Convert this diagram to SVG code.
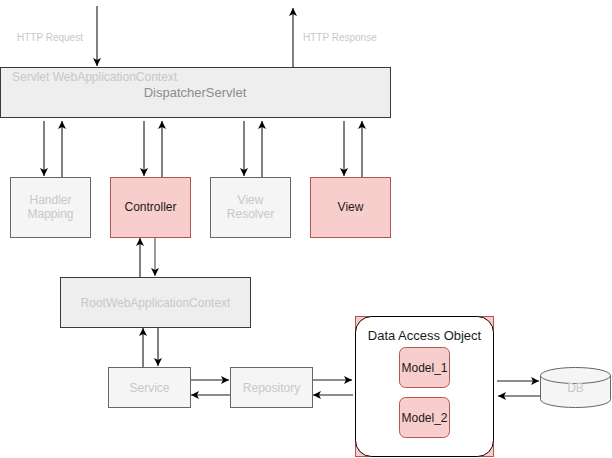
<svg xmlns="http://www.w3.org/2000/svg" width="612" height="458" viewBox="0 0 612 458">
  <style>
    .lbl { font-family: "Liberation Sans", Arial, sans-serif; }
    .faint { fill: #c8c8c8; }
    .dark { fill: #1a1a1a; }
    .grey-box { fill: #f5f5f5; stroke: #666666; stroke-width: 1; }
    .red-box { fill: #f8cecc; stroke: #b85450; stroke-width: 1; }
    .ctx-box { fill: #eeeeee; stroke: #36393d; stroke-width: 1; }
    .wire { stroke: #000000; stroke-width: 1; fill: none; marker-end: url(#head); }
    .wire-grey { stroke: #666666; stroke-width: 1.3; fill: none; marker-end: url(#head); }
  </style>
  <defs>
    <marker id="head" markerUnits="userSpaceOnUse" markerWidth="10" markerHeight="10" refX="8" refY="4" orient="auto">
      <path d="M0,0 L8,4 L0,8 L2,4 Z" fill="#000000"/>
    </marker>
  </defs>

  <rect width="612" height="458" fill="#ffffff"/>

  <!-- connectors -->
  <g id="connectors">
    <line class="wire" x1="97" y1="6" x2="97" y2="66"/>
    <line class="wire" x1="293" y1="67" x2="293" y2="8"/>

    <line class="wire" x1="44" y1="121" x2="44" y2="176"/>
    <line class="wire" x1="62" y1="177" x2="62" y2="121"/>
    <line class="wire" x1="144" y1="121" x2="144" y2="176"/>
    <line class="wire" x1="162" y1="177" x2="162" y2="121"/>
    <line class="wire" x1="244" y1="121" x2="244" y2="176"/>
    <line class="wire" x1="262" y1="177" x2="262" y2="121"/>
    <line class="wire" x1="344" y1="121" x2="344" y2="176"/>
    <line class="wire" x1="362" y1="177" x2="362" y2="121"/>

    <line class="wire" x1="140" y1="277" x2="140" y2="238"/>
    <line class="wire-grey" x1="155" y1="237" x2="155" y2="276"/>

    <line class="wire" x1="143" y1="367" x2="143" y2="328"/>
    <line class="wire" x1="158" y1="327" x2="158" y2="366"/>

    <line class="wire-grey" x1="190" y1="380" x2="229" y2="380"/>
    <line class="wire-grey" x1="230" y1="395" x2="191" y2="395"/>
    <line class="wire-grey" x1="312" y1="380" x2="352" y2="380"/>
    <line class="wire-grey" x1="353" y1="395" x2="313" y2="395"/>

    <line class="wire-grey" x1="497" y1="381" x2="539" y2="381"/>
    <line class="wire-grey" x1="540" y1="396" x2="498" y2="396"/>
  </g>

  <!-- free labels on the HTTP arrows -->
  <text class="lbl faint" x="17" y="41" font-size="10">HTTP Request</text>
  <text class="lbl faint" x="303" y="41" font-size="10">HTTP Response</text>

  <g id="dispatcher">
    <rect class="ctx-box" x="0.5" y="67.5" width="390" height="50"/>
    <text class="lbl faint" x="12" y="81" font-size="12">Servlet WebApplicationContext</text>
    <text class="lbl" x="195" y="97" font-size="13" text-anchor="middle" fill="#8c8c8c">DispatcherServlet</text>
  </g>

  <g id="handler-mapping">
    <rect class="grey-box" x="10.5" y="177.5" width="80" height="60"/>
    <text class="lbl faint" x="50.5" y="204" font-size="12" text-anchor="middle">Handler</text>
    <text class="lbl faint" x="50.5" y="218" font-size="12" text-anchor="middle">Mapping</text>
  </g>

  <g id="controller">
    <rect class="red-box" x="110.5" y="177.5" width="80" height="60"/>
    <text class="lbl dark" x="150.5" y="211" font-size="12" text-anchor="middle">Controller</text>
  </g>

  <g id="view-resolver">
    <rect class="grey-box" x="210.5" y="177.5" width="80" height="60"/>
    <text class="lbl faint" x="250.5" y="204" font-size="12" text-anchor="middle">View</text>
    <text class="lbl faint" x="250.5" y="218" font-size="12" text-anchor="middle">Resolver</text>
  </g>

  <g id="view">
    <rect class="red-box" x="310.5" y="177.5" width="80" height="60"/>
    <text class="lbl dark" x="350.5" y="211" font-size="12" text-anchor="middle">View</text>
  </g>

  <g id="root-context">
    <rect class="ctx-box" x="60.5" y="277.5" width="190" height="50"/>
    <text class="lbl faint" x="155.5" y="306.5" font-size="12" text-anchor="middle">RootWebApplicationContext</text>
  </g>

  <g id="service">
    <rect class="grey-box" x="108.5" y="367.5" width="82" height="40"/>
    <text class="lbl faint" x="149.5" y="391.5" font-size="12" text-anchor="middle">Service</text>
  </g>

  <g id="repository">
    <rect class="grey-box" x="230.5" y="367.5" width="82" height="40"/>
    <text class="lbl faint" x="271.5" y="391.5" font-size="12" text-anchor="middle">Repository</text>
  </g>

  <g id="data-access-object">
    <rect class="red-box" x="355.5" y="316.5" width="138" height="140"/>
    <rect x="355.5" y="316.5" width="138" height="140" rx="16" ry="16" fill="#ffffff" stroke="#000000" stroke-width="1"/>
    <text class="lbl dark" x="424.5" y="339.5" font-size="13" text-anchor="middle">Data Access Object</text>
  </g>

  <g id="model-1">
    <rect class="red-box" x="399.5" y="347.5" width="50" height="40" rx="6" ry="6"/>
    <text class="lbl dark" x="424.5" y="372" font-size="12" text-anchor="middle">Model_1</text>
  </g>

  <g id="model-2">
    <rect class="red-box" x="399.5" y="397.5" width="50" height="40" rx="6" ry="6"/>
    <text class="lbl dark" x="424.5" y="422" font-size="12" text-anchor="middle">Model_2</text>
  </g>

  <g id="db">
    <path d="M540.5,375.5 L540.5,399.5 A35,8 0 0 0 610.5,399.5 L610.5,375.5" fill="#f5f5f5" stroke="#666666" stroke-width="1"/>
    <ellipse cx="575.5" cy="375.5" rx="35" ry="8" fill="#f5f5f5" stroke="#666666" stroke-width="1"/>
    <text class="lbl faint" x="575.5" y="392" font-size="12" text-anchor="middle">DB</text>
  </g>
</svg>
